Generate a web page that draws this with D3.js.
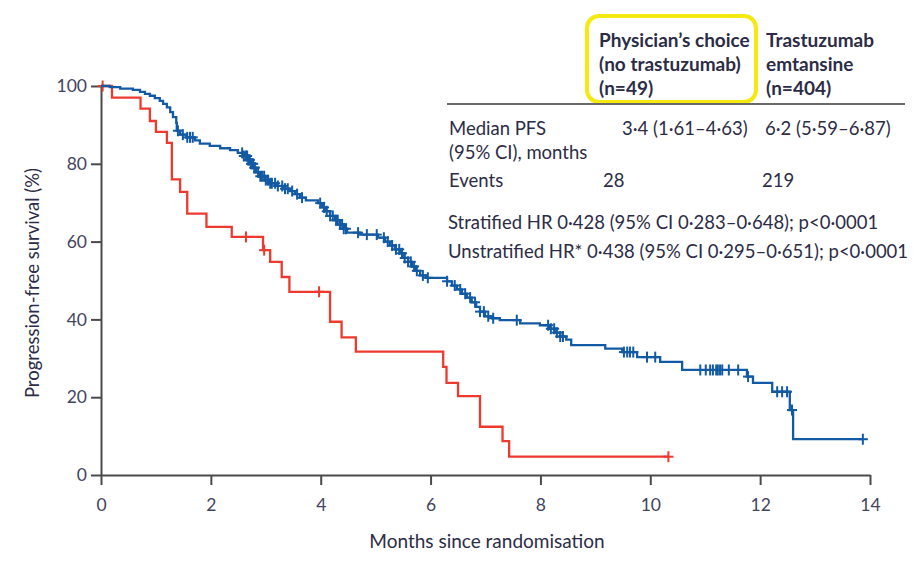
<!DOCTYPE html>
<html>
<head>
<meta charset="utf-8">
<script src="https://cdn.jsdelivr.net/npm/d3@7"></script>
<style>
  html, body { margin: 0; padding: 0; background: #fff; }
  svg { display: block; }
  text { font-family: Lato, "Open Sans", sans-serif; fill: #2c2c46; }
</style>
</head>
<body>
<svg id="chart" width="923" height="561"></svg>
<script>
// Kaplan–Meier step data: [months, progression-free survival %]
const physicianSteps = [
  [0, 100], [0.20, 97.0], [0.72, 94.2], [0.89, 91.0], [1.00, 88.2], [1.20, 85.4],
  [1.29, 76.0], [1.44, 72.8], [1.57, 67.2], [1.92, 63.8], [2.38, 61.2], [2.95, 57.8],
  [3.08, 54.8], [3.29, 50.9], [3.43, 47.1], [4.17, 39.4], [4.38, 35.4], [4.64, 31.7],
  [6.23, 27.8], [6.29, 23.7], [6.50, 20.3], [6.90, 12.4], [7.31, 8.7], [7.43, 4.7],
  [10.33, 4.7]
];
const physicianCensored = [0.03, 2.64, 2.97, 3.97, 10.33];

const tdm1Steps = [
  [0, 100], [0.16, 99.7], [0.35, 99.3], [0.58, 99.0], [0.71, 98.5], [0.80, 98.0],
  [0.89, 97.5], [0.98, 96.9], [1.07, 96.2], [1.13, 95.4], [1.20, 94.5], [1.26, 93.3],
  [1.31, 92.0], [1.37, 90.5], [1.38, 88.5], [1.44, 87.5], [1.55, 86.8], [1.71, 86.0],
  [1.80, 85.2], [1.98, 84.6], [2.17, 84.0], [2.35, 83.5], [2.49, 82.8], [2.60, 82.0],
  [2.68, 81.0], [2.73, 80.0], [2.79, 79.0], [2.82, 77.8], [2.89, 76.8], [2.99, 75.8],
  [3.08, 75.0], [3.19, 74.3], [3.31, 73.6], [3.44, 73.0], [3.53, 72.2], [3.62, 71.3],
  [3.73, 70.6], [3.95, 69.9], [4.02, 68.8], [4.10, 67.8], [4.17, 66.6], [4.26, 65.5],
  [4.35, 64.4], [4.42, 63.3], [4.48, 62.3], [4.72, 61.8], [5.04, 61.0], [5.17, 60.0],
  [5.26, 59.0], [5.35, 58.0], [5.44, 57.0], [5.52, 55.8], [5.59, 54.8], [5.66, 53.6],
  [5.73, 52.5], [5.81, 51.3], [5.92, 50.7], [6.30, 49.8], [6.39, 48.7], [6.48, 47.7],
  [6.57, 46.6], [6.66, 45.6], [6.75, 44.4], [6.83, 43.2], [6.90, 42.0], [6.99, 40.8],
  [7.12, 40.3], [7.26, 39.8], [7.63, 39.0], [7.99, 38.5], [8.17, 37.6], [8.26, 36.6],
  [8.36, 35.6], [8.47, 34.8], [8.56, 33.4], [9.18, 32.5], [9.49, 31.6], [9.76, 30.3],
  [10.18, 29.1], [10.58, 27.0], [11.76, 25.3], [11.87, 23.7], [12.22, 21.4],
  [12.54, 16.7], [12.60, 9.2], [13.87, 9.2]
];
const tdm1Censored = [
  1.40, 1.49, 1.57, 1.62, 1.67,
  2.57, 2.60, 2.64, 2.66, 2.68, 2.69, 2.71, 2.73, 2.75, 2.77, 2.79, 2.80,
  2.86, 2.90, 2.93, 2.97, 3.00, 3.04, 3.08, 3.11, 3.17, 3.22, 3.30, 3.35, 3.40, 3.48,
  3.57, 3.66,
  3.99, 4.06, 4.11, 4.17, 4.22, 4.28, 4.31, 4.35, 4.39, 4.42, 4.46,
  4.68, 4.84, 5.02,
  5.15, 5.22, 5.30, 5.37, 5.43, 5.48, 5.53, 5.59, 5.64, 5.70, 5.75,
  5.86, 5.95, 6.30,
  6.44, 6.54, 6.63, 6.72, 6.81, 6.90, 6.97, 7.05, 7.14,
  7.57,
  8.14, 8.19, 8.25, 8.30, 8.36, 8.41,
  9.52, 9.58, 9.63, 9.69, 9.94, 10.09,
  10.91, 11.01, 11.09, 11.14, 11.20, 11.23, 11.27, 11.31, 11.43, 11.60,
  11.78, 12.31, 12.40, 12.49, 12.58, 13.87
];

const xTicks = [0, 2, 4, 6, 8, 10, 12, 14];
const yTicks = [0, 20, 40, 60, 80, 100];

const headerPhysician = ["Physician\u2019s choice", "(no trastuzumab)", "(n=49)"];
const headerTdm1 = ["Trastuzumab", "emtansine", "(n=404)"];
const rowLabels = [["Median PFS", "(95% CI), months"], ["Events"]];
const medianPFS = ["3\u00b74 (1\u00b761\u20134\u00b763)", "6\u00b72 (5\u00b759\u20136\u00b787)"];
const events = ["28", "219"];
const hrLines = [
  "Stratified HR 0\u00b7428 (95% CI 0\u00b7283\u20130\u00b7648); p<0\u00b70001",
  "Unstratified HR* 0\u00b7438 (95% CI 0\u00b7295\u20130\u00b7651); p<0\u00b70001"
];

const RED = "#ee3a2e";
const BLUE = "#135aa5";
const AXIS = "#4a4a4a";

const svg = d3.select("#chart");
const x = d3.scaleLinear().domain([0, 14]).range([101, 870]);
const y = d3.scaleLinear().domain([0, 100]).range([475, 86]);

// Axes
const yAxis = svg.append("g").attr("transform", `translate(${x(0)},0)`)
  .call(d3.axisLeft(y).tickValues(yTicks).tickSize(10).tickSizeOuter(0).tickPadding(4));
const xAxis = svg.append("g").attr("transform", `translate(0,${y(0)})`)
  .call(d3.axisBottom(x).tickValues(xTicks).tickSize(10).tickSizeOuter(0).tickPadding(14));
[yAxis, xAxis].forEach(g => {
  g.selectAll("path, line").attr("stroke", AXIS).attr("stroke-width", 2);
  g.selectAll("text").style("font-size", "17.5px").style("fill", "#44445e");
});

svg.append("text").attr("x", 487).attr("y", 548).attr("text-anchor", "middle")
  .style("font-size", "19px").text("Months since randomisation");
svg.append("text").attr("transform", "translate(39,283) rotate(-90)")
  .attr("text-anchor", "middle").style("font-size", "18.5px")
  .text("Progression-free survival (%)");

// Survival curves
const line = d3.line().x(d => x(d[0])).y(d => y(d[1])).curve(d3.curveStepAfter);
function survivalAt(steps, t) {
  let s = steps[0][1];
  for (const p of steps) { if (p[0] <= t) s = p[1]; else break; }
  return s;
}
function drawArm(steps, censored, color) {
  svg.append("path").datum(steps).attr("d", line)
    .attr("fill", "none").attr("stroke", color).attr("stroke-width", 2.3);
  const g = svg.append("g").attr("stroke", color).attr("stroke-width", 2);
  censored.forEach(t => {
    const cx = x(t), cy = y(survivalAt(steps, t));
    g.append("line").attr("x1", cx).attr("x2", cx).attr("y1", cy - 5.5).attr("y2", cy + 5.5);
    g.append("line").attr("x1", cx - 5).attr("x2", cx + 5).attr("y1", cy).attr("y2", cy);
  });
}
drawArm(physicianSteps, physicianCensored, RED);
drawArm(tdm1Steps, tdm1Censored, BLUE);

// Summary table
const headG = svg.append("g").style("font-size", "19px").style("font-weight", "bold");
headerPhysician.forEach((t, i) => headG.append("text").attr("x", 599).attr("y", 47 + i * 24).text(t));
headerTdm1.forEach((t, i) => headG.append("text").attr("x", 766).attr("y", 47 + i * 24).text(t));
svg.append("rect").attr("x", 587).attr("y", 16).attr("width", 169).attr("height", 86)
  .attr("rx", 12).attr("fill", "none").attr("stroke", "#f4ea10").attr("stroke-width", 4);
svg.append("line").attr("x1", 447).attr("x2", 905).attr("y1", 104).attr("y2", 104)
  .attr("stroke", "#6a6a6a").attr("stroke-width", 2);

const bodyG = svg.append("g").style("font-size", "18.5px");
bodyG.append("text").attr("x", 449).attr("y", 135).text(rowLabels[0][0]);
bodyG.append("text").attr("x", 449).attr("y", 159).text(rowLabels[0][1]);
bodyG.append("text").attr("x", 449).attr("y", 187).text(rowLabels[1][0]);
bodyG.append("text").attr("x", 622).attr("y", 135).text(medianPFS[0]);
bodyG.append("text").attr("x", 765).attr("y", 135).text(medianPFS[1]);
bodyG.append("text").attr("x", 603).attr("y", 187).text(events[0]);
bodyG.append("text").attr("x", 762).attr("y", 187).text(events[1]);
hrLines.forEach((t, i) => bodyG.append("text").attr("x", 448).attr("y", 229 + i * 29).text(t));
</script>
</body>
</html>
